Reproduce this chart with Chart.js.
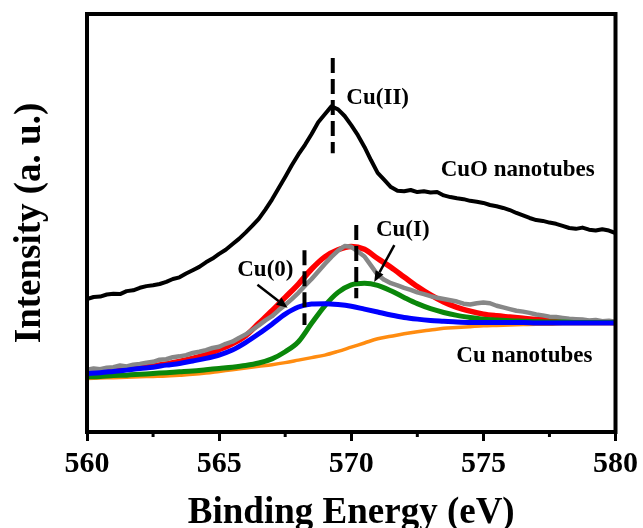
<!DOCTYPE html>
<html>
<head>
<meta charset="utf-8">
<script src="https://cdn.jsdelivr.net/npm/chart.js@4/dist/chart.umd.min.js"></script>
<style>
  html, body { margin: 0; padding: 0; background: #ffffff; }
  #wrap { width: 643px; height: 528px; }
</style>
</head>
<body>
<div id="wrap"><canvas id="c" width="643" height="528"></canvas></div>
<script>
// ---------- DATA ----------
// Shared energy grid for the fitted components (eV)
const fitX = [560,560.5,561,561.5,562,562.5,563,563.5,564,564.5,565,565.5,566,566.5,567,567.5,568,568.5,569,569.5,570,570.5,571,571.5,572,572.5,573,573.5,574,574.5,575,575.5,576,576.5,577,577.5,578,578.5,579,579.5,580];
const fitEnvelope = [14.3,14.5,14.8,15.1,15.4,15.8,16.3,16.9,17.6,18.5,19.7,21.1,23.0,26.0,29.0,32.2,35.4,39.0,41.9,43.6,44.4,43.7,41.5,39.4,37.1,34.8,32.8,31.1,29.8,28.9,28.2,27.8,27.5,27.2,26.9,26.8,26.7,26.6,26.4,26.3,26.2];
const fitCu0 = [14.0,14.2,14.5,14.8,15.2,15.5,16.0,16.4,17.0,17.6,18.4,19.6,21.4,23.5,25.8,28.2,29.9,30.6,30.7,30.5,30.1,29.4,28.7,28.0,27.4,27.0,26.7,26.5,26.3,26.2,26.2,26.2,26.2,26.2,26.1,26.1,26.1,26.1,26.1,26.1,26.1];
const fitCu1 = [13.2,13.3,13.5,13.6,13.8,14.0,14.2,14.4,14.6,14.9,15.2,15.5,15.9,16.5,17.5,19.2,21.6,26.0,30.2,33.4,35.2,35.6,35.1,33.8,32.2,30.7,29.5,28.6,27.9,27.4,27.0,26.8,26.6,26.5,26.4,26.3,26.3,26.2,26.2,26.2,26.2];
const fitBackground = [12.8,12.9,13.0,13.1,13.2,13.3,13.4,13.6,13.8,14.1,14.5,14.9,15.3,15.7,16.1,16.6,17.2,17.8,18.4,19.3,20.3,21.3,22.3,22.9,23.5,24.0,24.4,24.8,25.0,25.2,25.4,25.5,25.6,25.7,25.8,25.8,25.9,25.9,25.9,25.9,25.9];

// Measured spectra, 0.25 eV grid
const rawX = [560,560.25,560.5,560.75,561,561.25,561.5,561.75,562,562.25,562.5,562.75,563,563.25,563.5,563.75,564,564.25,564.5,564.75,565,565.25,565.5,565.75,566,566.25,566.5,566.75,567,567.25,567.5,567.75,568,568.25,568.5,568.75,569,569.25,569.5,569.75,570,570.25,570.5,570.75,571,571.25,571.5,571.75,572,572.25,572.5,572.75,573,573.25,573.5,573.75,574,574.25,574.5,574.75,575,575.25,575.5,575.75,576,576.25,576.5,576.75,577,577.25,577.5,577.75,578,578.25,578.5,578.75,579,579.25,579.5,579.75,580];
const cuoNanotubes = [31.8,32.3,32.4,32.9,33.1,33.0,33.7,33.9,34.5,34.9,35.1,35.4,35.9,36.6,37.0,37.9,38.7,39.5,40.6,41.5,42.6,43.6,44.9,46.2,47.7,49.3,51.0,53.2,55.6,58.3,61.0,63.8,66.4,68.7,71.3,74.1,76.0,77.9,77.2,75.6,73.4,71.0,68.2,65.0,62.0,60.3,58.6,57.7,57.6,57.9,57.4,57.6,57.3,57.4,56.6,56.2,55.9,55.7,55.3,55.1,54.8,54.3,54.0,53.6,53.1,52.4,51.8,51.2,50.7,50.5,50.1,49.8,49.3,48.8,48.6,48.9,48.4,48.2,48.5,48.2,47.6];
const cuNanotubes = [14.9,15.2,15.0,15.4,15.5,15.9,15.7,16.1,16.3,16.6,16.8,17.3,17.4,17.9,18.1,18.4,18.9,19.2,19.6,20.1,20.4,21.1,21.6,22.5,23.3,24.4,25.5,26.7,27.7,29.1,30.4,31.8,33.3,35.0,36.6,38.4,40.2,41.9,43.4,44.5,44.3,43.2,42.0,39.8,37.6,36.4,35.6,35.1,34.5,34.0,33.4,33.0,32.5,32.1,31.8,31.5,31.2,30.7,30.5,30.8,31.0,30.8,30.2,29.8,29.4,29.0,28.8,28.5,28.1,27.9,27.6,27.5,27.3,27.1,27.0,26.9,26.7,26.8,26.5,26.6,26.4];

// Peak position markers (dashed lines)
const markerEnergy = [569.30, 568.23, 570.19];
const markerTop    = [89.5, 43.5, 49.5];
const markerBottom = [66.7, 25.6, 32.0];

// Text annotations
const noteText = ['Cu(II)', 'CuO nanotubes', 'Cu(I)', 'Cu(0)', 'Cu nanotubes'];
const noteX    = [571.0, 576.3, 571.95, 566.75, 576.55];
const noteY    = [80.0, 62.7, 48.3, 38.7, 18.2];

// Arrows (from -> to, data coordinates)
const arrowFromX = [566.45, 571.63];
const arrowFromY = [35.2, 44.7];
const arrowToX   = [567.59, 570.87];
const arrowToY   = [29.7, 35.9];

// X tick values
const xMin = 560, xMax = 580, xMajorStep = 5;
const xMinorTicks = [562.5, 567.5, 572.5, 577.5];

// ---------- BUILD ----------
const FONT = '"Liberation Serif", "Times New Roman", serif';
const pts = (xs, ys) => xs.map((x, i) => ({x: x, y: ys[i]}));
const base = { pointRadius: 0, showLine: true, borderJoinStyle: 'round', borderCapStyle: 'round' };

const datasets = [];
markerEnergy.forEach((e, i) => {
  datasets.push({
    label: 'marker' + i,
    data: [{x: e, y: markerTop[i]}, {x: e, y: markerBottom[i]}],
    borderColor: '#000', borderWidth: 4, borderDash: [15, 6],
    pointRadius: 0, showLine: true, tension: 0
  });
});
datasets.push(Object.assign({ label: 'CuO nanotubes', data: pts(rawX, cuoNanotubes), borderColor: '#000000', borderWidth: 4, tension: 0 }, base));
datasets.push(Object.assign({ label: 'Cu(0)', data: pts(fitX, fitCu0), borderColor: '#0000ff', borderWidth: 5, cubicInterpolationMode: 'monotone' }, base));
datasets.push(Object.assign({ label: 'Cu(I)', data: pts(fitX, fitCu1), borderColor: '#0a870a', borderWidth: 5, cubicInterpolationMode: 'monotone' }, base));
datasets.push(Object.assign({ label: 'Cu nanotubes', data: pts(rawX, cuNanotubes), borderColor: '#878787', borderWidth: 4.5, tension: 0 }, base));
datasets.push(Object.assign({ label: 'Envelope', data: pts(fitX, fitEnvelope), borderColor: '#ff0000', borderWidth: 5.5, cubicInterpolationMode: 'monotone' }, base));
datasets.push(Object.assign({ label: 'Background', data: pts(fitX, fitBackground), borderColor: '#ff8c10', borderWidth: 3.5, cubicInterpolationMode: 'monotone' }, base));

const decor = {
  id: 'decor',
  afterDraw(chart) {
    const {ctx, chartArea: a, scales: {x, y}} = chart;
    ctx.save();
    // minor ticks
    ctx.strokeStyle = '#000';
    ctx.lineWidth = 3;
    xMinorTicks.forEach(v => {
      const px = x.getPixelForValue(v);
      ctx.beginPath(); ctx.moveTo(px, a.bottom); ctx.lineTo(px, a.bottom + 5); ctx.stroke();
    });
    // frame
    ctx.lineWidth = 4;
    ctx.strokeRect(a.left, a.top, a.right - a.left, a.bottom - a.top);
    // arrows
    ctx.fillStyle = '#000';
    arrowFromX.forEach((fx, i) => {
      const x0 = x.getPixelForValue(fx), y0 = y.getPixelForValue(arrowFromY[i]);
      const x1 = x.getPixelForValue(arrowToX[i]), y1 = y.getPixelForValue(arrowToY[i]);
      const ang = Math.atan2(y1 - y0, x1 - x0);
      const hl = 11, hw = 4.5;
      const bx = x1 - hl * Math.cos(ang), by = y1 - hl * Math.sin(ang);
      ctx.lineWidth = 2.5;
      ctx.beginPath(); ctx.moveTo(x0, y0); ctx.lineTo(bx, by); ctx.stroke();
      ctx.beginPath();
      ctx.moveTo(x1, y1);
      ctx.lineTo(bx + hw * Math.sin(ang), by - hw * Math.cos(ang));
      ctx.lineTo(bx - hw * Math.sin(ang), by + hw * Math.cos(ang));
      ctx.closePath(); ctx.fill();
    });
    // labels
    ctx.font = 'bold 23px ' + FONT;
    ctx.textAlign = 'center';
    ctx.textBaseline = 'middle';
    noteText.forEach((t, i) => {
      ctx.fillText(t, x.getPixelForValue(noteX[i]), y.getPixelForValue(noteY[i]));
    });
    ctx.restore();
  }
};

new Chart(document.getElementById('c'), {
  type: 'scatter',
  data: { datasets },
  options: {
    responsive: false,
    animation: false,
    devicePixelRatio: 1,
    layout: { padding: { top: 14, right: 27, left: 0, bottom: 0 } },
    plugins: { legend: { display: false }, tooltip: { enabled: false } },
    scales: {
      x: {
        type: 'linear', position: 'bottom', min: xMin, max: xMax,
        afterFit(s) { s.height = 96; },
        border: { display: false },
        grid: { display: true, drawOnChartArea: false, drawTicks: true, tickLength: 9, tickWidth: 3, tickColor: '#000', color: '#000' },
        ticks: { stepSize: xMajorStep, autoSkip: false, maxRotation: 0, padding: 5, color: '#000',
                 font: { family: FONT, size: 30, weight: 'bold' } },
        title: { display: true, text: 'Binding Energy (eV)', color: '#000', padding: 0,
                 font: { family: FONT, size: 37, weight: 'bold', lineHeight: 0.8 } }
      },
      y: {
        type: 'linear', min: 0, max: 100,
        afterFit(s) { s.width = 87; },
        border: { display: false },
        grid: { display: false },
        ticks: { display: false },
        title: { display: true, text: 'Intensity (a. u.)', color: '#000', padding: { top: 8, bottom: 0 },
                 font: { family: FONT, size: 37, weight: 'bold', lineHeight: 1.2 } }
      }
    }
  },
  plugins: [decor]
});
</script>
</body>
</html>
